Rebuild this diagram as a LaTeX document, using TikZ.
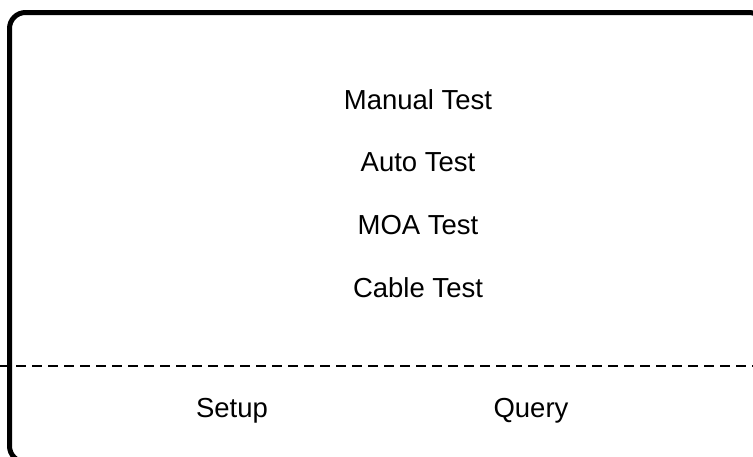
\documentclass[tikz,border=0pt]{standalone}
\usepackage{fontspec}
\setmainfont{Liberation Sans}
\tikzset{
  frame/.style={line width=5pt, rounded corners=16pt},
  sep/.style={line width=2.5pt, dash pattern=on 10pt off 6pt},
  label/.style={font=\fontsize{27.5}{32}\selectfont, inner sep=0pt}
}
\begin{document}
\begin{tikzpicture}[x=1pt,y=-1pt]
\useasboundingbox (0,0) rectangle (753,456);
\clip (0,0) rectangle (753,456);
\draw[frame] (9.5,12.5) rectangle (765,462);
\draw[sep] (0,366) -- (753,366);
\node[label] (manual) at (418,100) {Manual Test};
\node[label] (auto) at (418,162) {Auto Test};
\node[label] (moa) at (418,225) {MOA Test};
\node[label] (cable) at (418,288) {Cable Test};
\node[label] (setup) at (232,411) {Setup};
\node[label] (query) at (531,411) {Query};
\end{tikzpicture}
\end{document}
